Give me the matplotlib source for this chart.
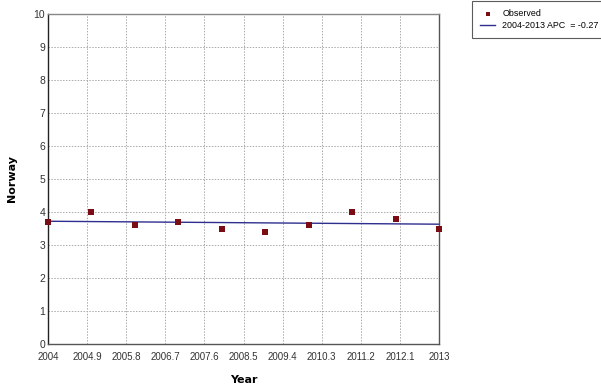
import numpy as np
import matplotlib
matplotlib.use("Agg")
import matplotlib.pyplot as plt

plt.rcParams["font.family"] = ["Liberation Sans", "DejaVu Sans"]

# observed rates
years = [2004, 2005, 2006, 2007, 2008, 2009, 2010, 2011, 2012, 2013]
observed = [3.7, 4.0, 3.6, 3.7, 3.5, 3.4, 3.6, 4.0, 3.8, 3.5]

# fitted joinpoint segment
fit_years = [2004, 2013]
fit_start = 3.72
apc = -0.27

xticks = [2004, 2004.9, 2005.8, 2006.7, 2007.6, 2008.5, 2009.4, 2010.3, 2011.2, 2012.1, 2013]
xtick_labels = ["2004", "2004.9", "2005.8", "2006.7", "2007.6", "2008.5",
                "2009.4", "2010.3", "2011.2", "2012.1", "2013"]
yticks = list(range(0, 11))

fit_x = np.linspace(fit_years[0], fit_years[1], 50)
fit_y = fit_start * (1 + apc / 100) ** (fit_x - fit_years[0])

W, H = 601, 387
fig = plt.figure(figsize=(W / 100, H / 100), dpi=100)
ax = fig.add_axes([48 / W, 1 - 344 / H, (439 - 48) / W, (344 - 14) / H])

ax.plot(fit_x, fit_y, color="#2e2e8e", lw=1.0, label="2004-2013 APC  = -0.27", zorder=3)
ax.scatter(years, observed, marker="s", s=18, color="#7a0c14", label="Observed",
           zorder=4, clip_on=False, linewidths=0)

ax.set_xlim(2004, 2013)
ax.set_ylim(0, 10)
ax.set_xticks(xticks)
ax.set_xticklabels(xtick_labels)
ax.set_yticks(yticks)
ax.tick_params(axis="x", length=0, labelsize=7, colors="#333333", pad=6)
ax.tick_params(axis="y", length=0, labelsize=7.5, colors="#333333", pad=2)
ax.grid(True, linestyle=(0, (1.5, 1.5)), color="#aaaaaa", lw=0.7)

ax.spines["left"].set_color("#222222")
ax.spines["bottom"].set_color("#555555")
ax.spines["top"].set_color("#888888")
ax.spines["right"].set_color("#555555")
for side in ax.spines:
    ax.spines[side].set_linewidth(1.0)

ax.set_xlabel("Year", fontsize=8, fontweight="bold", labelpad=9, family="DejaVu Sans")
ax.set_ylabel("Norway", fontsize=8, fontweight="bold", labelpad=12, family="DejaVu Sans")

handles, labels = ax.get_legend_handles_labels()
leg = fig.legend(handles[::-1], labels[::-1], loc="upper left",
                 bbox_to_anchor=(472 / W, 1 - 1 / H), fontsize=6.4, frameon=True,
                 fancybox=False, edgecolor="#333333", handlelength=1.7,
                 handletextpad=0.8, borderpad=0.9, labelspacing=0.35,
                 borderaxespad=0, scatterpoints=1, markerscale=0.6)
leg.get_frame().set_linewidth(0.8)

fig.savefig("out.png", dpi=100)
